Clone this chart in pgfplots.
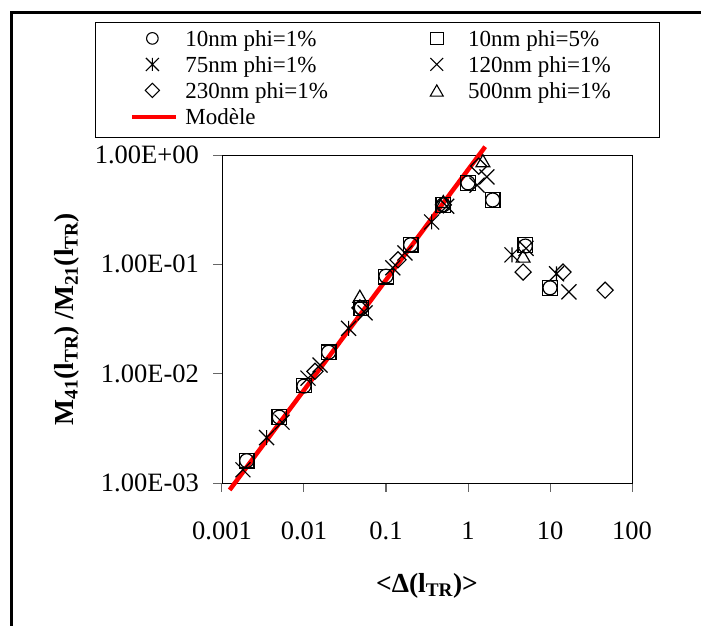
\documentclass[border=0pt]{standalone}
\usepackage{fontspec}
\setmainfont{Liberation Serif}
\usepackage{graphicx}
\usepackage{pgfplots}
\pgfplotsset{compat=1.18}
\pgfdeclareplotmark{xstar}{%
  \pgfpathmoveto{\pgfqpoint{-\pgfplotmarksize}{-\pgfplotmarksize}}%
  \pgfpathlineto{\pgfqpoint{\pgfplotmarksize}{\pgfplotmarksize}}%
  \pgfpathmoveto{\pgfqpoint{-\pgfplotmarksize}{\pgfplotmarksize}}%
  \pgfpathlineto{\pgfqpoint{\pgfplotmarksize}{-\pgfplotmarksize}}%
  \pgfpathmoveto{\pgfqpoint{0pt}{-\pgfplotmarksize}}%
  \pgfpathlineto{\pgfqpoint{0pt}{\pgfplotmarksize}}%
  \pgfusepathqstroke}
\pgfplotsset{
  legmk/.style={legend image code/.code={\path (0pt,0pt) (51pt,0pt); \draw[##1] plot coordinates {(20pt,8pt)};}},
  legmkt/.style={legend image code/.code={\path (0pt,0pt) (51pt,0pt); \draw[##1] plot coordinates {(20pt,6pt)};}},
  legln/.style={legend image code/.code={\path (0pt,0pt) (51pt,0pt); \draw[##1] (0pt,7pt) -- (44pt,7pt);}},
}
\begin{document}
\begin{tikzpicture}
\useasboundingbox (0pt,0pt) rectangle (701pt,626pt);
\draw[line width=3pt] (11pt,-20pt) -- (11pt,613pt) -- (730pt,613pt);
\begin{axis}[
  at={(222pt,143pt)}, anchor=south west,
  scale only axis, width=410pt, height=328pt,
  xmode=log, ymode=log,
  xmin=0.001, xmax=100, ymin=0.001, ymax=1,
  xtick={0.001,0.01,0.1,1,10,100},
  xticklabels={0.001,0.01,0.1,1,10,100},
  ytick={0.001,0.01,0.1,1},
  yticklabels={1.00E-03,1.00E-02,1.00E-01,1.00E+00},
  xminorticks=false, yminorticks=false,
  tick align=outside, xtick pos=bottom, ytick pos=left,
  major tick length=9pt,
  tick style={line width=1pt, color=black!60},
  axis line style={line width=0.9pt},
  /pgf/number format/assume math mode=true,
  ticklabel style={font=\fontsize{26.5}{30}\selectfont},
  xticklabel style={inner sep=0pt, anchor=north, yshift=-30pt},
  yticklabel style={inner sep=0pt, anchor=east, xshift=-14pt},
  clip=false,
  xlabel={\bfseries <Δ(l\textsubscript{TR})>},
  ylabel={\bfseries M\textsubscript{41}(l\textsubscript{TR}) /M\textsubscript{21}(l\textsubscript{TR})},
  label style={font=\fontsize{27.5}{30}\selectfont},
  xlabel style={at={(axis description cs:0.5,-0.335)}, anchor=base},
  ylabel style={at={(axis description cs:-0.362,0.5)}, anchor=base},
  legend columns=2,
  legend style={at={(axis description cs:-0.3098,1.4055)}, anchor=north west,
    draw=black, line width=0.8pt, inner xsep=35pt, inner ysep=7pt,
    font=\fontsize{23}{26}\selectfont,
    cells={anchor=base west},
    nodes={inner xsep=0pt, inner ysep=0pt, text height=17pt, text depth=6pt},
    /tikz/column sep=0pt, row sep=3pt,
    /tikz/every even column/.style={column sep=75pt}},
]
\addlegendimage{black, only marks, mark=o, mark size=5.8pt, mark options={line width=1.1pt}, legmk}
\addlegendentry{\makebox[156pt][l]{10nm phi=1\%}}
\addlegendimage{black, only marks, mark=square, mark size=6.3pt, mark options={line width=1.1pt}, legmk}
\addlegendentry{\makebox[156pt][l]{10nm phi=5\%}}
\addlegendimage{black, only marks, mark=xstar, mark size=6.5pt, mark options={line width=1.1pt}, legmk}
\addlegendentry{\makebox[156pt][l]{75nm phi=1\%}}
\addlegendimage{black, only marks, mark=x, mark size=9pt, mark options={line width=1.1pt}, legmk}
\addlegendentry{\makebox[156pt][l]{120nm phi=1\%}}
\addlegendimage{black, only marks, mark=square, mark size=5pt, mark options={line width=1.1pt, rotate=45}, legmk}
\addlegendentry{\makebox[156pt][l]{230nm phi=1\%}}
\addlegendimage{black, only marks, mark=triangle, mark size=7.5pt, mark options={line width=1.1pt}, legmkt}
\addlegendentry{\makebox[156pt][l]{500nm phi=1\%}}
\addlegendimage{red, line width=4pt, legln}
\addlegendentry{\makebox[156pt][l]{Modèle}}

% Model line
\addplot[color=red, line width=4.5pt, forget plot] coordinates {(0.00124,0.000864) (1.62,1.19)};

% 10nm phi=1%
\addplot[black, only marks, mark=o, mark size=7pt, mark options={line width=1.2pt}, forget plot] coordinates {
(0.002,0.0016) (0.005,0.0040) (0.01,0.0077) (0.02,0.0157) (0.05,0.040) (0.1,0.078)
(0.2,0.151) (0.5,0.35) (1,0.556) (2,0.388) (5,0.147) (10,0.061)};
% 10nm phi=5%
\addplot[black, only marks, mark=square, mark size=7.3pt, mark options={line width=1.2pt}, forget plot] coordinates {
(0.002,0.0016) (0.005,0.0040) (0.01,0.0078) (0.02,0.0157) (0.05,0.040) (0.1,0.077)
(0.2,0.151) (0.5,0.35) (1,0.556) (2,0.388) (5,0.15) (10,0.061)};
% 75nm phi=1%
\addplot[black, only marks, mark=xstar, mark size=7.5pt, mark options={line width=1.2pt}, forget plot] coordinates {
(0.0035,0.0026) (0.035,0.026) (0.36,0.244) (3.44,0.122) (12,0.082)};
% 120nm phi=1%
\addplot[black, only marks, mark=x, mark size=10.6pt, mark options={line width=1.2pt}, forget plot] coordinates {
(0.0018,0.00132) (0.0054,0.0036) (0.0112,0.0091) (0.0157,0.012) (0.0556,0.036) (0.121,0.093)
(0.17,0.127) (0.55,0.34) (1.29,0.53) (1.70,0.63) (5.1,0.14) (17,0.056)};
% 230nm phi=1%
\addplot[black, only marks, mark=square, mark size=5.7pt, mark options={line width=1.2pt, rotate=45}, forget plot] coordinates {
(0.0136,0.0105) (0.048,0.040) (0.14,0.110) (0.5,0.35) (1.35,0.79) (4.7,0.085) (14.4,0.085) (47,0.058)};
% 500nm phi=1%
\addplot[black, only marks, mark=triangle, mark size=8pt, mark options={line width=1.2pt}, forget plot] coordinates {
(0.048,0.049) (0.5,0.36) (1.52,0.85) (4.7,0.114)};
\end{axis}
\end{tikzpicture}
\end{document}
